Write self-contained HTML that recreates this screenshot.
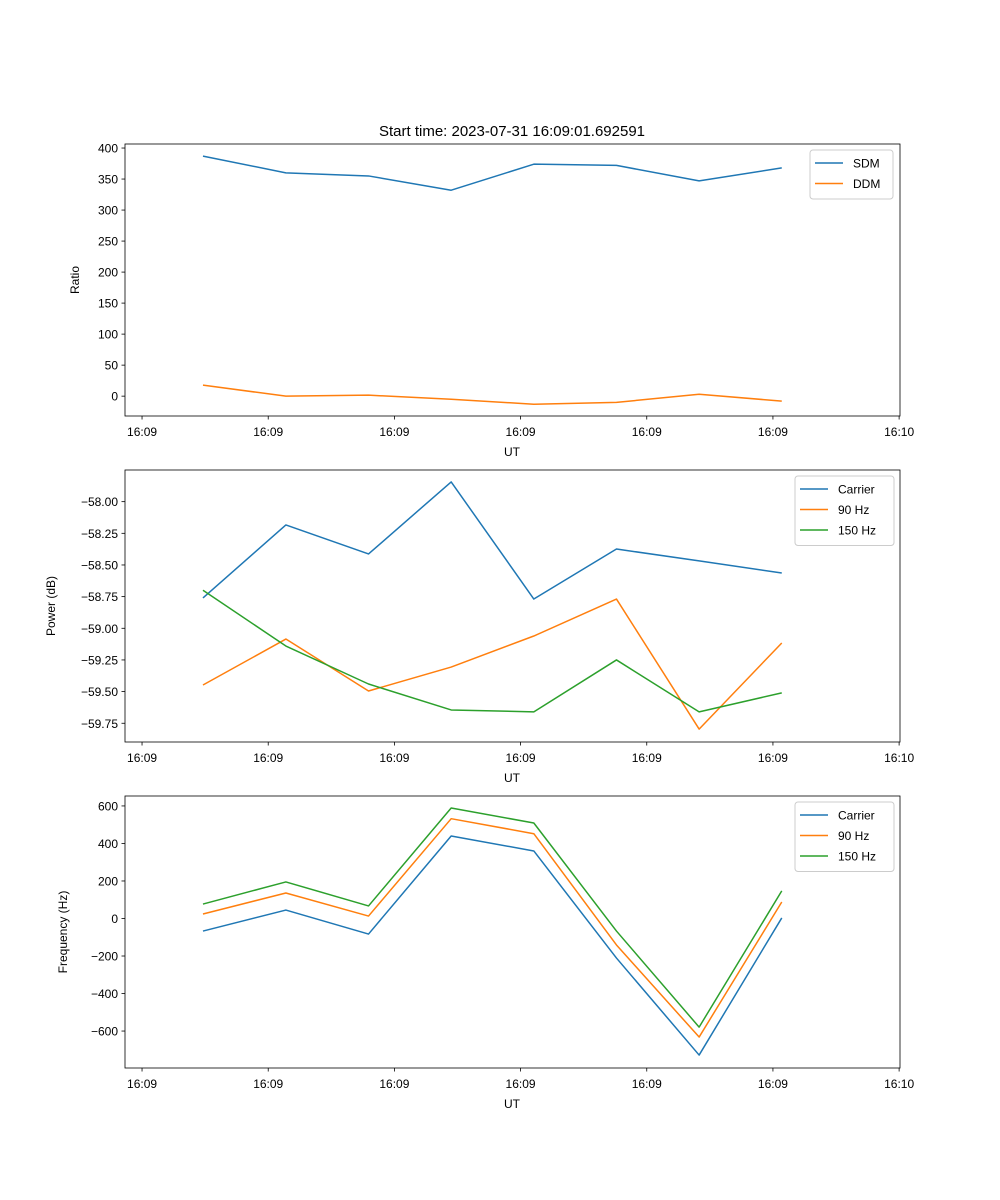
<!DOCTYPE html>
<html><head><meta charset="utf-8"><style>
body{margin:0;background:#fff;}
svg{display:block;font-family:"Liberation Sans","DejaVu Sans",sans-serif;}
</style></head><body>
<svg id="fig" width="1000" height="1200" viewBox="0 0 1000 1200">
<text x="512" y="136" font-size="15" text-anchor="middle">Start time: 2023-07-31 16:09:01.692591</text>
</svg>
<script>
const xSeconds = [4.83, 11.4, 17.95, 24.5, 31.05, 37.6, 44.15, 50.7];
const xTickValues = [0, 10, 20, 30, 40, 50, 60];
const xTickLabels = ["16:09","16:09","16:09","16:09","16:09","16:09","16:10"];
const sdm = [387, 360, 355, 332, 374, 372, 347, 368];
const ddm = [17.7, 0, 1.6, -5, -13, -10, 3, -8];
const ratioTicks = [0, 50, 100, 150, 200, 250, 300, 350, 400];
const pwrCarrier = [-58.76, -58.184, -58.413, -57.844, -58.769, -58.374, -58.468, -58.563];
const pwr90 = [-59.448, -59.085, -59.495, -59.306, -59.061, -58.769, -59.796, -59.116];
const pwr150 = [-58.70, -59.14, -59.44, -59.645, -59.66, -59.25, -59.66, -59.51];
const powerTicks = [-58.00, -58.25, -58.50, -58.75, -59.00, -59.25, -59.50, -59.75];
const freqCarrier = [-67, 45, -83, 440, 360, -211, -728, 3];
const freq90 = [24, 136, 13, 532, 452, -141, -632, 88];
const freq150 = [77, 195, 67, 589, 509, -67, -579, 147];
const freqTicks = [600, 400, 200, 0, -200, -400, -600];

const NS = "http://www.w3.org/2000/svg";
const svg = document.getElementById("fig");
const L = 125, R = 900, XMIN = -1.35, XMAX = 60.07;
const sx = v => L + (v - XMIN) / (XMAX - XMIN) * (R - L);
function mk(tag, attrs, parent) {
  const e = document.createElementNS(NS, tag);
  for (const k in attrs) e.setAttribute(k, attrs[k]);
  (parent || svg).appendChild(e);
  return e;
}
const colors = ["#1f77b4", "#ff7f0e", "#2ca02c"];

function panel(key, top, bottom, ymin, ymax, yTicks, yFmt, ylabel, ylabelX, series, names, legendW, legendX) {
  const g = mk("g", {});
  
  
  const sy = v => bottom - (v - ymin) / (ymax - ymin) * (bottom - top);
  series.forEach((s, i) => {
    const p = mk("polyline", {points: s.map((v, j) => sx(xSeconds[j]) + "," + sy(v)).join(" "), fill: "none", stroke: colors[i], "stroke-width": 1.5, "stroke-linejoin": "round"}, g);
    
    
  });
  const fr = mk("rect", {x: L, y: top, width: R - L, height: bottom - top, fill: "none", stroke: "#000", "stroke-width": 0.8}, g);
  
  
  xTickValues.forEach((v, i) => {
    const x = sx(v);
    mk("line", {x1: x, x2: x, y1: bottom, y2: bottom + 3.5, stroke: "#000", "stroke-width": 0.8}, g);
    const t = mk("text", {x: x, y: bottom + 20, "font-size": 12, "text-anchor": "middle"}, g);
    t.textContent = xTickLabels[i];
    
    
  });
  const xl = mk("text", {x: 512, y: bottom + 40, "font-size": 12, "text-anchor": "middle"}, g);
  xl.textContent = "UT";
  
  
  yTicks.forEach(v => {
    const y = sy(v);
    mk("line", {x1: L - 3.5, x2: L, y1: y, y2: y, stroke: "#000", "stroke-width": 0.8}, g);
    const t = mk("text", {x: L - 7, y: y + 4.5, "font-size": 12, "text-anchor": "end"}, g);
    t.textContent = yFmt(v);
    
    
  });
  const cy = (top + bottom) / 2;
  const yl = mk("text", {x: ylabelX, y: cy, "font-size": 12, "text-anchor": "middle", transform: "rotate(-90 " + ylabelX + " " + cy + ")"}, g);
  yl.textContent = ylabel;
  
  
  const lg = mk("g", {}, g);
  
  
  const lx = legendX, ly = top + 6, lh = 8 + names.length * 20.5;
  mk("rect", {x: lx, y: ly, width: legendW, height: lh, rx: 3, fill: "#fff", "fill-opacity": 0.8, stroke: "#ccc", "stroke-width": 1}, lg);
  names.forEach((n, i) => {
    const yy = ly + 13 + i * 20.5;
    mk("line", {x1: lx + 5, x2: lx + 33, y1: yy, y2: yy, stroke: colors[i], "stroke-width": 1.5}, lg);
    const t = mk("text", {x: lx + 43, y: yy + 4.5, "font-size": 12}, lg);
    t.textContent = n;
    
    
  });
}
panel("ratio", 144, 416, -32, 406.5, ratioTicks, v => String(v), "Ratio", 79, [sdm, ddm], ["SDM", "DDM"], 83, 810);
panel("power", 470, 742, -59.898, -57.750, powerTicks, v => v.toFixed(2).replace("-", "\u2212"), "Power (dB)", 55, [pwrCarrier, pwr90, pwr150], ["Carrier", "90 Hz", "150 Hz"], 99, 795);
panel("frequency", 796, 1068, -797, 653, freqTicks, v => String(v).replace("-", "\u2212"), "Frequency (Hz)", 67, [freqCarrier, freq90, freq150], ["Carrier", "90 Hz", "150 Hz"], 99, 795);
</script>
</body></html>
